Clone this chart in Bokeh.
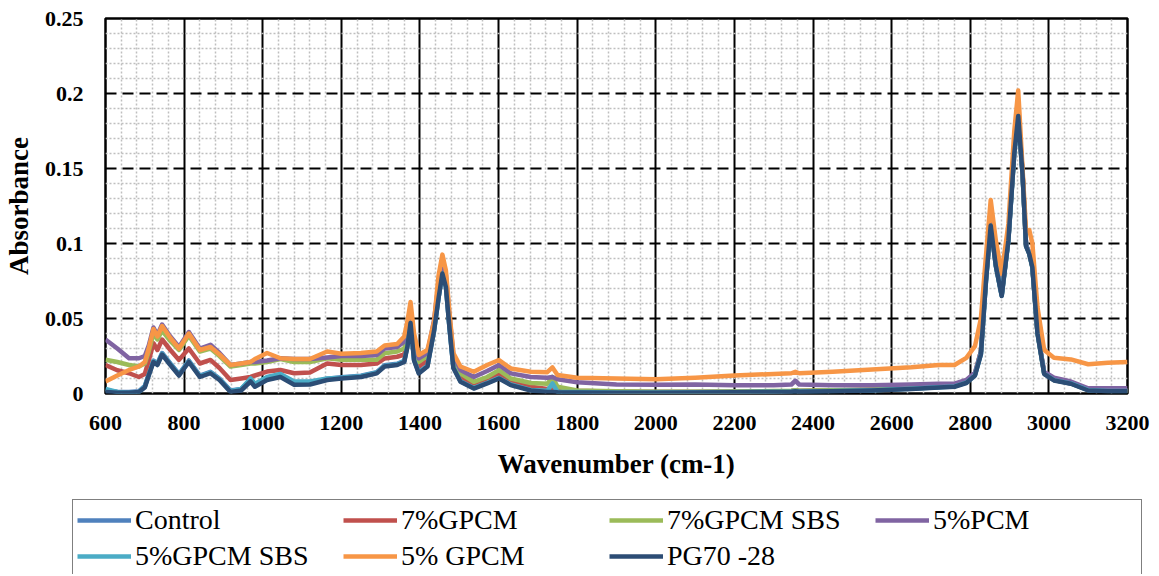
from bokeh.plotting import figure
from bokeh.layouts import column, row
from bokeh.models import FixedTicker, CustomJSTickFormatter, Legend, LegendItem
from bokeh.embed import file_html
from bokeh.resources import INLINE

# ---------------- data ----------------
wavenumber = [600, 630, 660, 685, 700, 710, 722, 732, 744, 765,
              787, 812, 840, 867, 890, 918, 945, 969, 980, 1011,
              1045, 1080, 1120, 1164, 1200, 1250, 1290, 1310, 1342, 1360,
              1368, 1376, 1385, 1397, 1419, 1436, 1447, 1457, 1466, 1475,
              1485, 1503, 1537, 1571, 1601, 1631, 1682, 1724, 1737, 1750,
              1800, 1900, 2000, 2100, 2200, 2300, 2345, 2355, 2365, 2450,
              2550, 2650, 2720, 2760, 2790, 2812, 2827, 2840, 2852, 2865,
              2880, 2897, 2912, 2922, 2933, 2942, 2950, 2958, 2971, 2988,
              3013, 3056, 3100, 3150, 3200]

control = [0.002, 0.0012, 0.001, 0.0015, 0.005, 0.013, 0.022, 0.020, 0.027, 0.020,
           0.013, 0.022, 0.012, 0.0145, 0.010, 0.002, 0.003, 0.009, 0.0055, 0.010,
           0.012, 0.0068, 0.007, 0.0098, 0.0108, 0.0118, 0.0142, 0.0188, 0.0198, 0.0218,
           0.032, 0.0475, 0.0228, 0.0142, 0.0188, 0.0425, 0.0635, 0.0805, 0.0715, 0.0445,
           0.0178, 0.0086, 0.0041, 0.0075, 0.0108, 0.0064, 0.0028, 0.0018, 0.0018, 0.0015,
           0.0013, 0.001, 0.001, 0.001, 0.0012, 0.0014, 0.0016, 0.0019, 0.0016, 0.0019,
           0.0024, 0.0034, 0.0044, 0.005, 0.0075, 0.0125, 0.0265, 0.0755, 0.1125, 0.0855,
           0.0655, 0.1025, 0.1605, 0.1855, 0.1465, 0.0985, 0.0935, 0.0845, 0.0405, 0.0135,
           0.0092, 0.007, 0.0025, 0.002, 0.002]

gpcm7 = [0.019, 0.0155, 0.0135, 0.011, 0.013, 0.022, 0.0335, 0.029, 0.036, 0.029,
         0.0224, 0.030, 0.020, 0.0224, 0.017, 0.009, 0.010, 0.011, 0.012, 0.0146,
         0.0157, 0.0135, 0.014, 0.020, 0.019, 0.019, 0.020, 0.0234, 0.0245, 0.026,
         0.035, 0.048, 0.028, 0.018, 0.022, 0.045, 0.067, 0.083, 0.074, 0.047,
         0.021, 0.011, 0.0056, 0.009, 0.0134, 0.0078, 0.0045, 0.003, 0.004, 0.0025,
         0.0018, 0.0012, 0.001, 0.001, 0.0012, 0.0015, 0.0017, 0.002, 0.0017, 0.002,
         0.0025, 0.0035, 0.0045, 0.005, 0.0075, 0.013, 0.028, 0.078, 0.114, 0.087,
         0.067, 0.104, 0.163, 0.188, 0.148, 0.099, 0.094, 0.085, 0.041, 0.014,
         0.009, 0.0067, 0.0025, 0.002, 0.002]

gpcm7_sbs = [0.0225, 0.021, 0.019, 0.018, 0.020, 0.028, 0.040, 0.036, 0.042, 0.035,
             0.029, 0.0385, 0.028, 0.030, 0.025, 0.018, 0.019, 0.020, 0.020, 0.021,
             0.023, 0.021, 0.021, 0.0235, 0.0225, 0.0225, 0.0225, 0.0268, 0.028, 0.030,
             0.038, 0.050, 0.031, 0.021, 0.025, 0.047, 0.070, 0.085, 0.076, 0.049,
             0.023, 0.0134, 0.0078, 0.011, 0.0156, 0.010, 0.007, 0.0065, 0.011, 0.0045,
             0.002, 0.0015, 0.0012, 0.0012, 0.0013, 0.0016, 0.0018, 0.0021, 0.0018, 0.0021,
             0.0026, 0.0036, 0.0046, 0.0052, 0.0078, 0.0133, 0.028, 0.077, 0.113, 0.086,
             0.066, 0.103, 0.162, 0.187, 0.147, 0.0985, 0.0935, 0.0845, 0.0405, 0.0135,
             0.009, 0.0068, 0.0024, 0.0019, 0.0019]

pcm5 = [0.036, 0.030, 0.0235, 0.0235, 0.025, 0.032, 0.044, 0.039, 0.046, 0.038,
        0.031, 0.041, 0.030, 0.0325, 0.027, 0.019, 0.020, 0.021, 0.021, 0.022,
        0.0235, 0.023, 0.023, 0.024, 0.025, 0.025, 0.0257, 0.030, 0.031, 0.0346,
        0.042, 0.053, 0.034, 0.0234, 0.027, 0.049, 0.073, 0.088, 0.079, 0.052,
        0.026, 0.0156, 0.011, 0.015, 0.019, 0.0134, 0.011, 0.0105, 0.011, 0.0095,
        0.0075, 0.006, 0.0058, 0.006, 0.0055, 0.0055, 0.006, 0.0085, 0.006, 0.0055,
        0.0055, 0.006, 0.0065, 0.0065, 0.009, 0.014, 0.028, 0.077, 0.113, 0.086,
        0.066, 0.103, 0.162, 0.187, 0.147, 0.099, 0.094, 0.085, 0.041, 0.0145,
        0.0105, 0.008, 0.0035, 0.0035, 0.0035]

gpcm5_sbs = [0.003, 0.001, 0.0005, 0.001, 0.0045, 0.0125, 0.0215, 0.0195, 0.0265, 0.0195,
             0.0125, 0.0215, 0.0115, 0.014, 0.0095, 0.0015, 0.003, 0.010, 0.0065, 0.011,
             0.013, 0.008, 0.008, 0.010, 0.0105, 0.0115, 0.0138, 0.0184, 0.0194, 0.0214,
             0.0315, 0.0472, 0.0224, 0.0138, 0.0184, 0.0422, 0.0632, 0.0802, 0.0712, 0.0442,
             0.0174, 0.0082, 0.0037, 0.0071, 0.0104, 0.006, 0.0024, 0.0018, 0.0067, 0.0012,
             0.001, 0.0007, 0.0007, 0.0008, 0.001, 0.0012, 0.0014, 0.0017, 0.0014, 0.0017,
             0.0022, 0.0032, 0.0042, 0.0047, 0.0072, 0.0122, 0.0262, 0.0752, 0.1122, 0.0852,
             0.0652, 0.1022, 0.1602, 0.1852, 0.1462, 0.0982, 0.0932, 0.0842, 0.0402, 0.0132,
             0.0089, 0.0067, 0.0022, 0.0017, 0.0017]

gpcm5 = [0.008, 0.012, 0.0157, 0.018, 0.021, 0.030, 0.043, 0.038, 0.045, 0.037,
         0.030, 0.040, 0.029, 0.031, 0.026, 0.019, 0.020, 0.021, 0.023, 0.027,
         0.0235, 0.023, 0.023, 0.028, 0.0265, 0.027, 0.028, 0.032, 0.033, 0.038,
         0.048, 0.061, 0.040, 0.0257, 0.029, 0.048, 0.078, 0.0926, 0.082, 0.054,
         0.027, 0.018, 0.0145, 0.019, 0.0223, 0.0167, 0.0145, 0.0142, 0.0174, 0.0123,
         0.0105, 0.010, 0.0095, 0.0105, 0.012, 0.013, 0.0135, 0.0145, 0.0135, 0.0145,
         0.016, 0.0175, 0.019, 0.019, 0.0238, 0.0316, 0.050, 0.092, 0.129, 0.102,
         0.080, 0.113, 0.175, 0.202, 0.150, 0.108, 0.109, 0.100, 0.0576, 0.029,
         0.0238, 0.0227, 0.0195, 0.0205, 0.021]

pg70_28 = [0.001, 0.0005, 0.0005, 0.001, 0.004, 0.012, 0.021, 0.019, 0.026, 0.019,
           0.012, 0.021, 0.011, 0.0135, 0.009, 0.001, 0.002, 0.008, 0.0045, 0.009,
           0.011, 0.0058, 0.006, 0.009, 0.010, 0.011, 0.0134, 0.018, 0.019, 0.021,
           0.031, 0.047, 0.022, 0.0134, 0.018, 0.042, 0.063, 0.080, 0.071, 0.044,
           0.017, 0.0078, 0.0033, 0.0067, 0.010, 0.0056, 0.002, 0.001, 0.001, 0.0008,
           0.0007, 0.0005, 0.0005, 0.0006, 0.0008, 0.001, 0.0012, 0.0015, 0.0012, 0.0015,
           0.002, 0.003, 0.004, 0.0045, 0.007, 0.012, 0.026, 0.075, 0.112, 0.085,
           0.065, 0.102, 0.160, 0.185, 0.146, 0.098, 0.093, 0.084, 0.040, 0.013,
           0.0087, 0.0065, 0.002, 0.0015, 0.0015]

series_names = ["Control", "7%GPCM", "7%GPCM SBS", "5%PCM", "5%GPCM SBS", "5% GPCM", "PG70 -28"]
series_values = [control, gpcm7, gpcm7_sbs, pcm5, gpcm5_sbs, gpcm5, pg70_28]
series_colors = ["#4F81BD", "#C0504D", "#9BBB59", "#8064A2", "#4BACC6", "#F79646", "#2C4D75"]

x_major = list(range(600, 3201, 200))
x_minor = [v for v in range(600, 3201, 40) if v % 200 != 0]
y_major = [0, 0.05, 0.1, 0.15, 0.2, 0.25]
y_minor = [round(i * 0.01, 2) for i in range(26) if i % 5 != 0]

FONT = "Liberation Serif"
LINE_W = 4.5

# ---------------- main chart ----------------
p = figure(frame_width=1022, frame_height=375,
           x_range=(600, 3200), y_range=(0, 0.25),
           output_backend="svg", toolbar_location=None,
           min_border_left=101, min_border_right=26,
           min_border_top=18, min_border_bottom=95,
           background_fill_color="white", border_fill_color="white")

for vals, col in zip(series_values, series_colors):
    p.line(wavenumber, vals, line_color=col, line_width=LINE_W, line_join="round")

p.xaxis.ticker = FixedTicker(ticks=x_major, minor_ticks=x_minor)
p.yaxis.ticker = FixedTicker(ticks=y_major, minor_ticks=y_minor)
p.yaxis.formatter = CustomJSTickFormatter(code="return tick.toString();")

for ax in (p.xaxis[0], p.yaxis[0]):
    ax.axis_line_color = None
    ax.major_tick_line_color = None
    ax.minor_tick_line_color = None
    ax.major_tick_out = 0
    ax.minor_tick_out = 0
    ax.major_tick_in = 0
    ax.minor_tick_in = 0
    ax.major_label_text_font = FONT
    ax.major_label_text_font_style = "bold"
    ax.major_label_text_font_size = "22px"
    ax.major_label_text_color = "black"
    ax.axis_label_text_font = FONT
    ax.axis_label_text_font_style = "bold"
    ax.axis_label_text_font_size = "27px"
    ax.axis_label_text_color = "black"

p.xaxis.axis_label = "Wavenumber (cm-1)"
p.yaxis.axis_label = "Absorbance"
p.xaxis.major_label_standoff = 22
p.xaxis.axis_label_standoff = 16
p.yaxis.major_label_standoff = 22
p.yaxis.axis_label_standoff = 8

p.xgrid.grid_line_color = "black"
p.xgrid.grid_line_width = 2
p.xgrid.grid_line_alpha = 1
p.ygrid.grid_line_color = "black"
p.ygrid.grid_line_width = 2
p.ygrid.grid_line_alpha = 1
p.ygrid.grid_line_dash = "11 6"
for g in (p.xgrid[0], p.ygrid[0]):
    g.minor_grid_line_color = "#BFBFBF"
    g.minor_grid_line_width = 1.5
    g.minor_grid_line_dash = "2 2"

p.outline_line_color = "black"
p.outline_line_width = 2.5
p.outline_line_alpha = 1

# ---------------- legend strip ----------------
LEG_H = 86
q = figure(width=1149, height=LEG_H, x_range=(0, 1), y_range=(0, 1),
           output_backend="svg", toolbar_location=None,
           min_border_left=71, min_border_right=0,
           min_border_top=0, min_border_bottom=0,
           border_fill_color="white", background_fill_color="white")
q.axis.visible = False
q.grid.visible = False
q.outline_line_color = None

items = []
for name, col in zip(series_names, series_colors):
    # points lie outside the strip's ranges: only the legend swatch shows
    r = q.line([-5, -4], [-5, -4], line_color=col, line_width=LINE_W)
    items.append(LegendItem(label=name, renderers=[r]))

lg = Legend(items=items, orientation="horizontal", ncols=4,
            location=(1, LEG_H - 13 - 76), padding=4, spacing=4, margin=0,
            glyph_width=54, glyph_height=32, label_height=32, label_width=204,
            label_standoff=4, label_text_font=FONT, label_text_font_size="28px",
            label_text_color="black", border_line_color="black",
            border_line_width=1.5, background_fill_color="white",
            background_fill_alpha=1)
q.add_layout(lg, "center")

# the strip sits in its own row so that its frame is not aligned to the chart's
open("out.html", "w").write(file_html(column(p, row(q)), INLINE))
